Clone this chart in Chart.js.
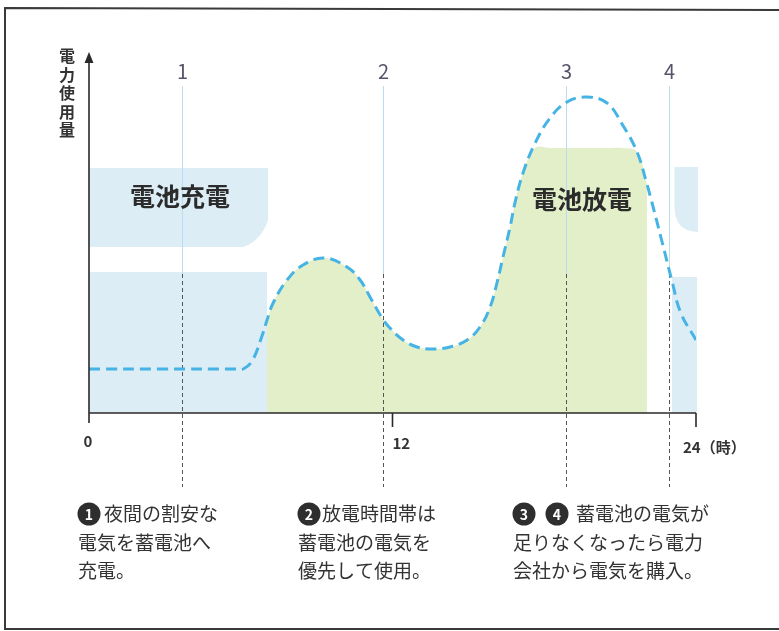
<!DOCTYPE html>
<html lang="ja">
<head>
<meta charset="utf-8">
<title>蓄電池の充放電イメージ</title>
<script src="https://cdn.jsdelivr.net/npm/chart.js@4/dist/chart.umd.min.js"></script>
<style>
  html, body { margin: 0; padding: 0; background: #fff; }
  #wrap { width: 779px; height: 631px; position: relative; }
</style>
</head>
<body>
<div id="wrap"><canvas id="usageChart" width="779" height="631"></canvas></div>
<script>
// time of day (h) and power usage (arbitrary units)
const hours = [0, 3, 5.8, 6.1, 6.45, 6.84, 7.04, 7.28, 7.83, 8.46, 9.3, 10.2, 10.72, 11.11, 11.59, 11.9, 12.42, 12.97,
  13.6, 14.27, 14.95, 15.46, 15.86, 16.13, 16.37, 16.65, 16.84, 17.16, 17.64, 18.23, 18.9, 19.69, 20.48, 21.1,
  21.67, 22.06, 22.18, 22.66, 23.06, 23.4, 24];
const usage = [44, 44, 44, 44, 52, 77, 93, 110, 133, 148, 155, 146, 133, 116, 95, 85, 73, 66,
  64, 66, 73, 86, 106, 130, 156, 186, 210, 240, 270, 295, 311, 316, 310, 288,
  261, 229, 218, 171, 131, 100, 73];

// battery discharge window and its output limit
const dischargeWindow = [7.04, 22.06];
const dischargeCap = 265;

// x axis tick labels
const tickValues = [0, 12, 24];
const tickLabels = ['0', '12', '24（時）'];

// numbered moments on the timeline
const markerHours = [3.68, 11.63, 18.86, 22.93];
const markerLabels = ['1', '2', '3', '4'];

const yMax = 358;

const FONT = '"Noto Sans CJK JP", "Noto Sans", sans-serif';
const BLUE_BOX = '#dcedf5';
const GREEN = '#e2efc9';
const TEXT = '#333333';

// green area: the usage curve, limited by the battery output, inside the discharge window
const dischargeArea = hours.map((h, i) => ({
  x: h,
  y: (h >= dischargeWindow[0] && h <= dischargeWindow[1]) ? Math.min(usage[i], dischargeCap) : null
}));

function circledNumber(ctx, cx, cy, n) {
  ctx.beginPath();
  ctx.arc(cx, cy, 11.5, 0, Math.PI * 2);
  ctx.fillStyle = '#2e2e2e';
  ctx.fill();
  ctx.fillStyle = '#fff';
  ctx.font = 'bold 14px ' + FONT;
  ctx.textAlign = 'center';
  ctx.textBaseline = 'middle';
  ctx.fillText(n, cx, cy + 1);
}

const decorPlugin = {
  id: 'decor',
  beforeDatasetsDraw(chart) {
    const { ctx, scales: { x, y } } = chart;
    ctx.save();
    ctx.fillStyle = BLUE_BOX;
    // charging blocks (night tariff)
    const l0 = x.getPixelForValue(0), l1 = x.getPixelForValue(dischargeWindow[0]);
    ctx.fillRect(l0, y.getPixelForValue(141), l1 - l0, y.getPixelForValue(0) - y.getPixelForValue(141));
    const r0 = x.getPixelForValue(23.05), r1 = x.getPixelForValue(24) + 1;
    ctx.fillRect(r0, y.getPixelForValue(136), r1 - r0, y.getPixelForValue(0) - y.getPixelForValue(136));

    // label box left, chamfered lower right corner
    const bt = y.getPixelForValue(245), bb = y.getPixelForValue(166);
    ctx.beginPath();
    ctx.moveTo(l0, bt);
    ctx.lineTo(l1 + 1, bt);
    ctx.lineTo(l1 + 1, bb - 27);
    ctx.quadraticCurveTo(l1 - 6, bb - 6, l1 - 24, bb);
    ctx.lineTo(l0, bb);
    ctx.closePath();
    ctx.fill();

    // label box right, rounded lower left corner
    const rt = y.getPixelForValue(246), rb = y.getPixelForValue(181);
    const rl = x.getPixelForValue(23.15), rr = x.getPixelForValue(24) + 2;
    ctx.beginPath();
    ctx.moveTo(rl, rt);
    ctx.lineTo(rr, rt);
    ctx.lineTo(rr, rb);
    ctx.lineTo(rl + 24, rb);
    ctx.quadraticCurveTo(rl, rb, rl, rb - 26);
    ctx.closePath();
    ctx.fill();
    ctx.restore();
  },
  afterDatasetDraw(chart, args) {
    if (args.index !== 1) return;
    const { ctx, scales: { x } } = chart;
    ctx.save();
    markerHours.forEach((h, i) => {
      const px = Math.round(x.getPixelForValue(h)) + 0.5;
      ctx.strokeStyle = '#b9dcee';
      ctx.lineWidth = 1;
      ctx.setLineDash([]);
      ctx.beginPath();
      ctx.moveTo(px, 86);
      ctx.lineTo(px, 274);
      ctx.stroke();
      ctx.strokeStyle = '#555';
      ctx.setLineDash([4, 3]);
      ctx.beginPath();
      ctx.moveTo(px, 274);
      ctx.lineTo(px, 487);
      ctx.stroke();

      ctx.fillStyle = '#56546a';
      ctx.font = '20px ' + FONT;
      ctx.textAlign = 'center';
      ctx.textBaseline = 'middle';
      ctx.fillText(markerLabels[i], px, 71);
    });
    ctx.restore();
  },
  afterDraw(chart) {
    const { ctx, scales: { x, y } } = chart;
    const x0 = x.getPixelForValue(0), x24 = x.getPixelForValue(24);
    const y0 = y.getPixelForValue(0), yTop = y.getPixelForValue(yMax);
    ctx.save();

    // frame
    ctx.strokeStyle = '#3a3a3a';
    ctx.lineWidth = 2;
    ctx.beginPath();
    ctx.moveTo(779, 10);
    ctx.lineTo(5, 8);
    ctx.lineTo(5, 629);
    ctx.lineTo(779, 629);
    ctx.stroke();

    // axes
    ctx.strokeStyle = '#2a2a2a';
    ctx.lineWidth = 1.6;
    ctx.beginPath();
    ctx.moveTo(x0, y0 + 10);
    ctx.lineTo(x0, yTop + 4);
    ctx.moveTo(x0, y0);
    ctx.lineTo(x24, y0);
    tickValues.slice(1).forEach(v => {
      const px = x.getPixelForValue(v);
      ctx.moveTo(px, y0);
      ctx.lineTo(px, y0 + 14);
    });
    ctx.stroke();
    ctx.fillStyle = '#2a2a2a';
    ctx.beginPath();
    ctx.moveTo(x0, yTop - 3);
    ctx.lineTo(x0 - 4.5, yTop + 8);
    ctx.lineTo(x0 + 4.5, yTop + 8);
    ctx.closePath();
    ctx.fill();

    // tick labels
    ctx.fillStyle = TEXT;
    ctx.font = '600 15px ' + FONT;
    ctx.textBaseline = 'middle';
    tickValues.forEach((v, i) => {
      const px = x.getPixelForValue(v);
      ctx.textAlign = i === 0 ? 'center' : 'left';
      ctx.fillText(tickLabels[i], i === 0 ? px - 1 : (i === 2 ? px - 13 : px), i === 0 ? 441 : (i === 2 ? 447 : 443));
    });

    // y axis title, vertical
    ctx.font = 'bold 16px ' + FONT;
    ctx.textAlign = 'center';
    ['電', '力', '使', '用', '量'].forEach((c, i) => ctx.fillText(c, 67, 56 + i * 18.6));

    // band labels
    ctx.font = 'bold 25px ' + FONT;
    ctx.fillStyle = '#2b2b2b';
    ctx.fillText('電池充電', 180, 196);
    ctx.fillText('電池放電', 582, 199);

    // captions
    const lineY = [514, 543, 571];
    circledNumber(ctx, 89, lineY[0], '1');
    ctx.fillStyle = TEXT; ctx.font = '19px ' + FONT; ctx.textAlign = 'left';
    ctx.fillText('夜間の割安な', 104, lineY[0]);
    ctx.fillText('電気を蓄電池へ', 78, lineY[1]);
    ctx.fillText('充電。', 78, lineY[2]);

    circledNumber(ctx, 309, lineY[0], '2');
    ctx.fillStyle = TEXT; ctx.font = '19px ' + FONT; ctx.textAlign = 'left';
    ctx.fillText('放電時間帯は', 322, lineY[0]);
    ctx.fillText('蓄電池の電気を', 298, lineY[1]);
    ctx.fillText('優先して使用。', 298, lineY[2]);

    circledNumber(ctx, 524, lineY[0], '3');
    circledNumber(ctx, 557, lineY[0], '4');
    ctx.fillStyle = TEXT; ctx.font = '19px ' + FONT; ctx.textAlign = 'left';
    ctx.fillText('蓄電池の電気が', 576, lineY[0]);
    ctx.fillText('足りなくなったら電力', 513, lineY[1]);
    ctx.fillText('会社から電気を購入。', 513, lineY[2]);
    ctx.restore();
  }
};

const ctx = document.getElementById('usageChart').getContext('2d');

const usageChart = new Chart(ctx, {
  type: 'line',
  data: {
    datasets: [
      {
        label: '電力使用量',
        data: hours.map((h, i) => ({ x: h, y: usage[i] })),
        borderColor: '#45b4e5',
        borderWidth: 3,
        borderDash: [11, 6],
        pointRadius: 0,
        fill: false,
        tension: 0.4,
        order: 1
      },
      {
        label: '電池放電',
        data: dischargeArea,
        borderWidth: 0,
        borderColor: 'rgba(0,0,0,0)',
        backgroundColor: GREEN,
        pointRadius: 0,
        fill: 'origin',
        spanGaps: false,
        tension: 0.4,
        order: 2
      }
    ]
  },
  options: {
    responsive: false,
    animation: false,
    layout: { padding: { left: 89, right: 83, top: 55, bottom: 218 } },
    scales: {
      x: { type: 'linear', min: 0, max: 24, display: false },
      y: { min: 0, max: yMax, display: false }
    },
    plugins: {
      legend: { display: false },
      tooltip: { enabled: false }
    }
  },
  plugins: [decorPlugin]
});
</script>
</body>
</html>
